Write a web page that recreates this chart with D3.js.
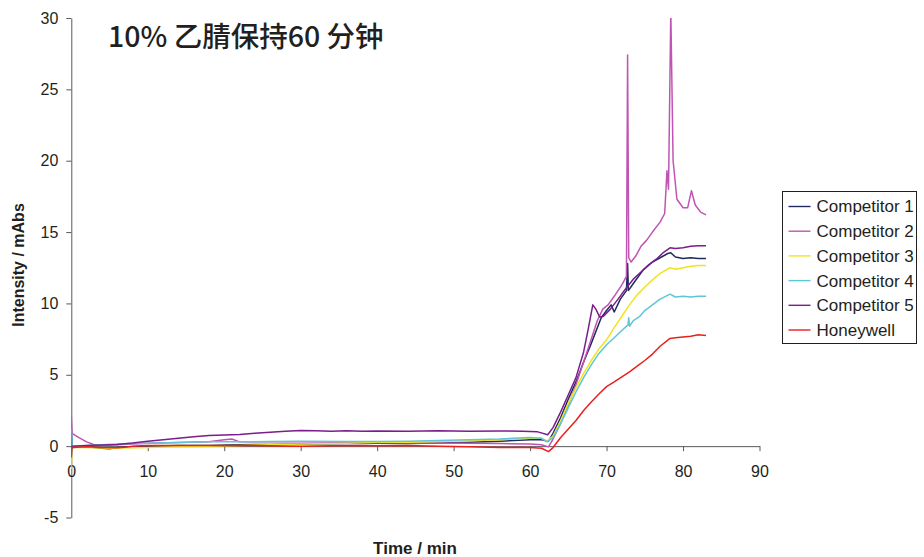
<!DOCTYPE html>
<html>
<head>
<meta charset="utf-8">
<script src="https://cdn.jsdelivr.net/npm/d3@7"></script>
<style>
  body { margin: 0; background: #fff; }
  svg { display: block; }
  .axis text { font-family: "Liberation Sans", Arial, sans-serif; font-size: 16px; fill: #231f20; }
  .axis path, .axis line { stroke: #58595b; stroke-width: 1; }
</style>
</head>
<body>
<div id="chart"></div>
<script>
// series: [time (min), intensity (mAbs)]
const competitor1 = [[0,1.2],[0.1,-0.1],[2,-0.05],[4,-0.15],[5,-0.18],[6,-0.1],[8,-0.05],[10,0.0],[14,0.05],[18,0.05],[22,0.1],[26,0.12],[30,0.15],[36,0.18],[40,0.2],[44,0.18],[48,0.22],[52,0.28],[56,0.35],[60,0.45],[61.5,0.45],[62.4,0.35],[63,0.9],[64,2.0],[65,3.3],[66,4.5],[67,5.9],[68,7.2],[69.3,9.0],[70,9.5],[70.6,9.9],[71,9.4],[71.8,10.3],[72.6,10.9],[72.75,12.8],[72.85,10.9],[73.5,11.4],[74.8,12.35],[76,12.9],[77,13.2],[78,13.5],[78.4,13.55],[79,13.25],[80,13.15],[81,13.2],[82,13.15],[83,13.15]];
const competitor2 = [[0,2.1],[0.1,0.9],[1,0.6],[2,0.3],[3,0.1],[4,0.05],[6,0.1],[8,0.15],[10,0.2],[14,0.25],[18,0.3],[20,0.45],[21,0.5],[22,0.3],[26,0.3],[30,0.3],[36,0.28],[40,0.27],[44,0.22],[48,0.22],[52,0.2],[56,0.18],[60,0.15],[61.5,0.1],[62.4,-0.05],[63,0.5],[64,1.6],[65,2.9],[66,4.3],[67,5.9],[68,7.5],[68.8,8.8],[69.5,9.6],[70.2,9.9],[71,10.5],[72,11.3],[72.6,11.9],[72.75,27.4],[72.9,13.2],[73.2,12.9],[73.8,13.3],[74.5,14.0],[75.2,14.4],[76,15.0],[77,15.7],[77.6,16.3],[77.9,19.3],[78.1,18.0],[78.4,30.5],[78.7,20.0],[79.2,17.3],[80,16.7],[80.6,16.7],[81.1,17.9],[81.6,16.9],[82.3,16.4],[83,16.2]];
const competitor3 = [[0,-1.6],[0.1,-0.1],[2,-0.1],[5,-0.15],[8,-0.12],[10,-0.1],[14,-0.05],[18,0.0],[22,0.05],[26,0.1],[30,0.15],[36,0.2],[40,0.25],[44,0.28],[48,0.32],[52,0.38],[56,0.45],[60,0.55],[61.5,0.55],[62.2,0.35],[63,0.7],[64,1.8],[65,3.0],[66,4.1],[67,5.1],[68,6.0],[69,6.8],[70,7.45],[71,8.3],[72,9.1],[73,9.9],[74,10.6],[75,11.15],[76,11.65],[77,12.1],[78.3,12.5],[79,12.4],[80,12.5],[81,12.6],[82,12.65],[83,12.65]];
const competitor4 = [[0,1.2],[0.1,0.0],[2,0.05],[4,0.1],[6,0.15],[8,0.18],[10,0.2],[14,0.25],[18,0.3],[22,0.3],[26,0.32],[30,0.35],[36,0.33],[40,0.32],[44,0.35],[48,0.4],[52,0.45],[56,0.5],[60,0.6],[61.5,0.55],[62.2,0.3],[63,0.6],[64,1.6],[65,2.7],[66,3.8],[67,4.8],[68,5.7],[69,6.5],[70,7.1],[71,7.6],[72,8.1],[72.8,8.5],[72.9,9.0],[73.0,8.4],[73.5,8.8],[74.3,9.07],[75,9.5],[76,9.9],[77,10.3],[78.3,10.65],[79,10.45],[80,10.5],[81,10.45],[82,10.5],[83,10.5]];
const competitor5 = [[0,-0.8],[0.1,0.0],[2,0.05],[4,0.08],[6,0.12],[8,0.22],[10,0.35],[12,0.45],[14,0.55],[16,0.65],[18,0.74],[20,0.78],[22,0.82],[24,0.9],[26,0.98],[28,1.05],[30,1.1],[32,1.08],[34,1.05],[36,1.07],[38,1.04],[40,1.06],[44,1.05],[48,1.08],[52,1.04],[56,1.06],[59,1.05],[61,1.0],[62.3,0.8],[63,1.3],[64,2.4],[65,3.6],[66,4.8],[67,6.6],[67.6,8.2],[68.2,9.9],[68.6,9.6],[69.1,9.05],[69.6,9.1],[70.5,9.6],[71.5,10.3],[72.6,11.1],[73.5,11.7],[74.5,12.2],[75.5,12.7],[76.5,13.1],[77.5,13.6],[78.3,13.9],[79,13.85],[80,13.9],[81,14.0],[82,14.05],[83,14.05]];
const honeywell = [[0,-0.1],[2,-0.05],[4,-0.1],[6,-0.12],[7,-0.08],[8,0.0],[10,0.05],[14,0.05],[18,0.05],[22,0.05],[26,0.03],[30,0.0],[34,0.02],[38,0.05],[40,0.02],[44,0.05],[48,0.0],[52,-0.05],[56,-0.1],[60,-0.1],[61.5,-0.15],[62.4,-0.38],[63,-0.1],[64,0.6],[65,1.2],[66,1.8],[67,2.5],[68,3.1],[69,3.65],[70,4.17],[71,4.5],[72,4.85],[73,5.2],[74,5.6],[75,6.0],[76,6.45],[77,7.0],[78.3,7.55],[79,7.6],[80,7.65],[81,7.7],[82,7.8],[83,7.75]];

const seriesNames = ["Competitor 1", "Competitor 2", "Competitor 3", "Competitor 4", "Competitor 5", "Honeywell"];
const seriesColors = ["#1f2a5e", "#c054b4", "#f2e41c", "#5ec6d6", "#7b1d8c", "#e8201e"];
const seriesData = [competitor1, competitor2, competitor3, competitor4, competitor5, honeywell];
const xTicks = [0, 10, 20, 30, 40, 50, 60, 70, 80, 90];
const yTicks = [-5, 0, 5, 10, 15, 20, 25, 30];

const width = 924, height = 557;
const margin = { left: 71.3, top: 18, right: 164.5, bottom: 39.5 };
const plotW = width - margin.left - margin.right;
const plotH = height - margin.top - margin.bottom;

const svg = d3.select("#chart").append("svg")
  .attr("width", width)
  .attr("height", height);

const x = d3.scaleLinear().domain([0, 90]).range([0, plotW]);
const y = d3.scaleLinear().domain([-5, 30]).range([plotH, 0]);

const g = svg.append("g")
  .attr("transform", "translate(" + margin.left + "," + margin.top + ")");

// y axis on the left, plain hyphen for negatives
g.append("g")
  .attr("class", "axis")
  .call(d3.axisLeft(y).tickValues(yTicks).tickFormat(function(d) { return String(d); })
    .tickSize(5).tickPadding(8).tickSizeOuter(0));

// x axis crossing at 0
g.append("g")
  .attr("class", "axis")
  .attr("transform", "translate(0," + y(0) + ")")
  .call(d3.axisBottom(x).tickValues(xTicks).tickSize(5).tickPadding(14).tickSizeOuter(0));

g.append("clipPath").attr("id", "plot-clip")
  .append("rect").attr("x", 0).attr("y", 0).attr("width", plotW).attr("height", plotH);

const line = d3.line()
  .x(function(d) { return x(d[0]); })
  .y(function(d) { return y(d[1]); });

g.append("g").attr("clip-path", "url(#plot-clip)")
  .selectAll("path")
  .data(seriesData)
  .enter().append("path")
  .attr("fill", "none")
  .attr("stroke", function(d, i) { return seriesColors[i]; })
  .attr("stroke-width", 1.5)
  .attr("stroke-linejoin", "round")
  .attr("d", line);

// titles
svg.append("text")
  .attr("x", 108)
  .attr("y", 47)
  .attr("font-family", "'Noto Sans CJK SC', 'Noto Sans', sans-serif")
  .attr("font-size", 28.5)
  .attr("font-weight", 500)
  .attr("fill", "#231f20")
  .text("10% 乙腈保持60 分钟");

svg.append("text")
  .attr("transform", "translate(24,265) rotate(-90)")
  .attr("text-anchor", "middle")
  .attr("font-family", "'Liberation Sans', Arial, sans-serif")
  .attr("font-size", 16)
  .attr("font-weight", "bold")
  .attr("fill", "#231f20")
  .text("Intensity / mAbs");

svg.append("text")
  .attr("x", 415)
  .attr("y", 554)
  .attr("text-anchor", "middle")
  .attr("font-family", "'Liberation Sans', Arial, sans-serif")
  .attr("font-size", 17)
  .attr("font-weight", "bold")
  .attr("fill", "#231f20")
  .text("Time / min");

// legend
const legend = svg.append("g").attr("transform", "translate(782.5,191.5)");
legend.append("rect")
  .attr("width", 134)
  .attr("height", 152)
  .attr("fill", "#fff")
  .attr("stroke", "#231f20")
  .attr("stroke-width", 1);

const item = legend.selectAll(".item")
  .data(seriesNames)
  .enter().append("g")
  .attr("transform", function(d, i) { return "translate(0," + (15 + i * 24.7) + ")"; });
item.append("line")
  .attr("x1", 6).attr("x2", 28)
  .attr("stroke", function(d, i) { return seriesColors[i]; })
  .attr("stroke-width", 1.4);
item.append("text")
  .attr("x", 34)
  .attr("dy", "0.35em")
  .attr("font-family", "'Liberation Sans', Arial, sans-serif")
  .attr("font-size", 17)
  .attr("fill", "#231f20")
  .text(function(d) { return d; });
</script>
</body>
</html>
